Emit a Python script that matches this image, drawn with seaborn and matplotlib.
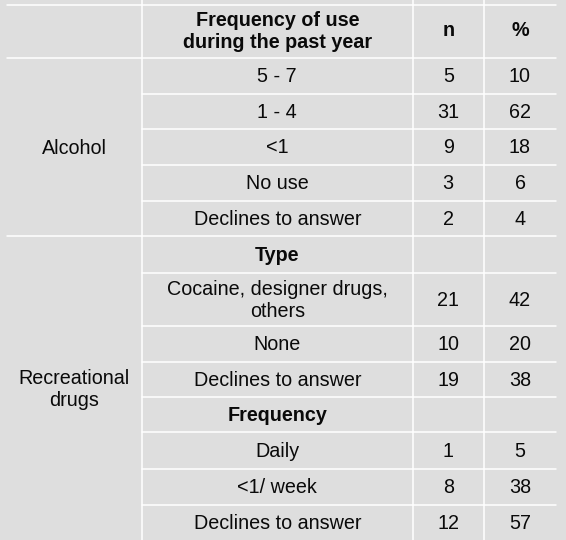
import matplotlib
matplotlib.use("Agg")
import matplotlib.pyplot as plt
import seaborn as sns

sns.set_theme(style="white")
plt.rcParams['font.family'] = ['Liberation Sans', 'DejaVu Sans']

headers = ["Frequency of use\nduring the past year", "n", "%"]
groups = ["Alcohol", "Recreational\ndrugs"]
labels = ["5 - 7", "1 - 4", "<1", "No use", "Declines to answer",
          "Type", "Cocaine, designer drugs,\nothers", "None", "Declines to answer",
          "Frequency", "Daily", "<1/ week", "Declines to answer"]
n_vals = ["5", "31", "9", "3", "2", "", "21", "10", "19", "", "1", "8", "12"]
pct_vals = ["10", "62", "18", "6", "4", "", "42", "20", "38", "", "5", "38", "57"]
bold_rows = [5, 9]

# layout (pixel units)
row_edges = [57.5, 93.5, 129, 164.5, 200.5, 236, 272.5, 326, 361.5, 397, 432, 468.5, 504.5, 540]
col_edges = [7, 142, 412.5, 484, 556]
group_spans = [(0, 5), (5, 13)]
BG = "#dedede"

fig = plt.figure(figsize=(5.66, 5.40), dpi=100, facecolor=BG)
ax = fig.add_axes([0, 0, 1, 1])
ax.set_facecolor(BG)
ax.set_xlim(0, 566)
ax.set_ylim(540, 0)
ax.axis("off")

fs = 14.2
lw = 1.1
tc = "#0a0a0a"
ax.plot([col_edges[0], col_edges[-1]], [4.5, 4.5], color="white", lw=lw)
ax.plot([col_edges[0], col_edges[-1]], [57.5, 57.5], color="white", lw=lw)
for i, y in enumerate(row_edges[1:-1], start=1):
    x0 = col_edges[0] if i == 5 else col_edges[1]
    ax.plot([x0, col_edges[-1]], [y, y], color="white", lw=lw)
for x in col_edges[1:4]:
    ax.plot([x, x], [0, 540], color="white", lw=lw)

for j, h in enumerate(headers):
    cx = (col_edges[j + 1] + col_edges[j + 2]) / 2
    ax.text(cx, 31, h, ha="center", va="center", fontsize=fs, fontweight="bold",
            linespacing=1.2, color=tc)

for g, (a, b) in zip(groups, group_spans):
    cy = (row_edges[a] + row_edges[b]) / 2 + 2
    ax.text((col_edges[0] + col_edges[1]) / 2, cy, g, ha="center", va="center",
            fontsize=fs, linespacing=1.2, color=tc)

for i, (lab, n, p) in enumerate(zip(labels, n_vals, pct_vals)):
    cy = (row_edges[i] + row_edges[i + 1]) / 2 + 1
    bold = "bold" if i in bold_rows else "normal"
    ax.text((col_edges[1] + col_edges[2]) / 2, cy, lab, ha="center", va="center",
            fontsize=fs, fontweight=bold, linespacing=1.2, color=tc)
    ax.text((col_edges[2] + col_edges[3]) / 2, cy, n, ha="center", va="center",
            fontsize=fs, color=tc)
    ax.text((col_edges[3] + col_edges[4]) / 2, cy, p, ha="center", va="center",
            fontsize=fs, color=tc)

fig.savefig("out.png", dpi=100, facecolor=BG)
